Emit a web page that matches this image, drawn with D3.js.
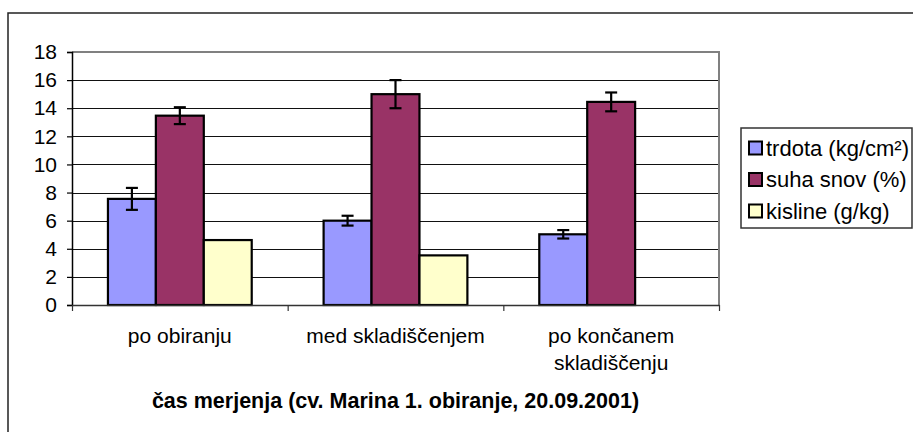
<!DOCTYPE html>
<html><head><meta charset="utf-8">
<script src="https://cdn.jsdelivr.net/npm/d3@7"></script>
<style>
body{margin:0;background:#fff;}
svg text{font-family:"Liberation Sans",Arial,sans-serif;fill:#000;}
</style></head>
<body><svg id="c" width="913" height="432"></svg>
<script>
const categories = [["po obiranju"], ["med skladiščenjem"], ["po končanem", "skladiščenju"]];
const seriesNames = ["trdota (kg/cm²)", "suha snov (%)", "kisline (g/kg)"];
const seriesColors = ["#9999FF", "#993366", "#FFFFCC"];
const trdota = [7.55, 6.0, 5.03];
const trdotaErr = [0.78, 0.35, 0.3];
const suhaSnov = [13.47, 15.0, 14.45];
const suhaSnovErr = [0.6, 1.0, 0.67];
const kisline = [4.62, 3.53, null];
const kislineErr = [null, null, null];
const yTicks = [0, 2, 4, 6, 8, 10, 12, 14, 16, 18];
const xTitle = "čas merjenja (cv. Marina 1. obiranje, 20.09.2001)";

const values = [trdota, suhaSnov, kisline];
const errors = [trdotaErr, suhaSnovErr, kislineErr];

const svg = d3.select("#c");
const L = 72, R = 719, T = 52, B = 305;
const FS = 21;

// outer chart border
svg.append("rect").attr("x", 8).attr("y", 13).attr("width", 1000).attr("height", 500)
  .attr("fill", "none").attr("stroke", "#222").attr("stroke-width", 1.5);

const catIdx = categories.map((d, i) => i);
const x0 = d3.scaleBand().domain(catIdx).range([L, R]).padding(0);
const W = x0.bandwidth();
const bw = W / 4.5;
const x1 = d3.scaleBand().domain([0, 1, 2]).range([bw * 0.75, W - bw * 0.75]).padding(0);
const y = d3.scaleLinear().domain([0, 18]).range([B, T]);

// gridlines
svg.append("g").selectAll("line").data(yTicks.filter(t => t > 0 && t < 18)).join("line")
  .attr("x1", L).attr("x2", R).attr("y1", d => Math.round(y(d)) + 0.5).attr("y2", d => Math.round(y(d)) + 0.5)
  .attr("stroke", "#111").attr("stroke-width", 1);

// plot border top & right
svg.append("path").attr("d", `M${L},${y(18)}H${R}V${B}`).attr("fill", "none")
  .attr("stroke", "#808080").attr("stroke-width", 2);

// bars
const groups = svg.append("g").selectAll("g").data(catIdx).join("g")
  .attr("transform", d => `translate(${x0(d)},0)`);
groups.selectAll("rect").data(ci => values.map((v, si) => ({ si, v: v[ci], e: errors[si][ci] })).filter(d => d.v != null))
  .join("rect")
  .attr("x", d => x1(d.si)).attr("width", x1.bandwidth())
  .attr("y", d => y(d.v)).attr("height", d => y(0) - y(d.v))
  .attr("fill", d => seriesColors[d.si]).attr("stroke", "#000").attr("stroke-width", 2.2);

// error bars
const eb = groups.selectAll("g.eb").data(ci => values.map((v, si) => ({ si, v: v[ci], e: errors[si][ci] })).filter(d => d.v != null && d.e != null))
  .join("g").attr("class", "eb");
const cx = d => x1(d.si) + x1.bandwidth() / 2;
eb.append("line").attr("x1", cx).attr("x2", cx)
  .attr("y1", d => y(d.v + d.e)).attr("y2", d => y(d.v - d.e)).attr("stroke", "#000").attr("stroke-width", 2.2);
eb.append("line").attr("x1", d => cx(d) - 6).attr("x2", d => cx(d) + 6)
  .attr("y1", d => y(d.v + d.e)).attr("y2", d => y(d.v + d.e)).attr("stroke", "#000").attr("stroke-width", 2.2);
eb.append("line").attr("x1", d => cx(d) - 6).attr("x2", d => cx(d) + 6)
  .attr("y1", d => y(d.v - d.e)).attr("y2", d => y(d.v - d.e)).attr("stroke", "#000").attr("stroke-width", 2.2);

// y axis
const yAxis = d3.axisLeft(y).tickValues(yTicks).tickSize(5).tickPadding(10).tickFormat(d3.format("d"));
const yg = svg.append("g").attr("transform", `translate(${L},0)`).call(yAxis);
yg.select(".domain").attr("stroke", "#000").attr("stroke-width", 1.5);
yg.selectAll(".tick line").attr("stroke", "#000").attr("stroke-width", 1.2);
yg.selectAll(".tick text").attr("font-size", FS).attr("font-family", "Liberation Sans, Arial, sans-serif").attr("fill", "#000");

// x axis
const xb = d3.scaleLinear().domain([0, categories.length]).range([L, R]);
const xAxis = d3.axisBottom(xb).tickValues(d3.range(categories.length + 1)).tickSize(6).tickSizeOuter(0).tickFormat("");
const xg = svg.append("g").attr("transform", `translate(0,${B})`).call(xAxis);
xg.select(".domain").attr("stroke", "#333").attr("stroke-width", 1.5);
xg.selectAll(".tick line").attr("stroke", "#333").attr("stroke-width", 1.2);

// category labels
svg.append("g").selectAll("text").data(catIdx).join("text")
  .attr("x", d => x0(d) + W / 2).attr("y", 343)
  .attr("text-anchor", "middle").attr("font-size", FS)
  .each(function (d) {
    const t = d3.select(this);
    categories[d].forEach((line, li) => {
      t.append("tspan").attr("x", x0(d) + W / 2).attr("dy", li === 0 ? 0 : 27).text(line);
    });
  });

// x title
svg.append("text").attr("x", (L + R) / 2).attr("y", 408).attr("text-anchor", "middle")
  .attr("font-size", 21.5).attr("font-weight", "bold").text(xTitle);

// legend
const lg = svg.append("g");
lg.append("rect").attr("x", 741).attr("y", 128).attr("width", 171).attr("height", 100)
  .attr("fill", "#fff").attr("stroke", "#333").attr("stroke-width", 1.5);
const items = lg.selectAll("g.li").data(seriesNames).join("g").attr("class", "li")
  .attr("transform", (d, i) => `translate(0,${148 + i * 31.5})`);
items.append("rect").attr("x", 749).attr("y", -6.5).attr("width", 13).attr("height", 13)
  .attr("fill", (d, i) => seriesColors[i]).attr("stroke", "#000").attr("stroke-width", 2);
items.append("text").attr("x", 766).attr("y", 0).attr("dy", "0.35em").attr("font-size", 22).text(d => d);
</script></body></html>
